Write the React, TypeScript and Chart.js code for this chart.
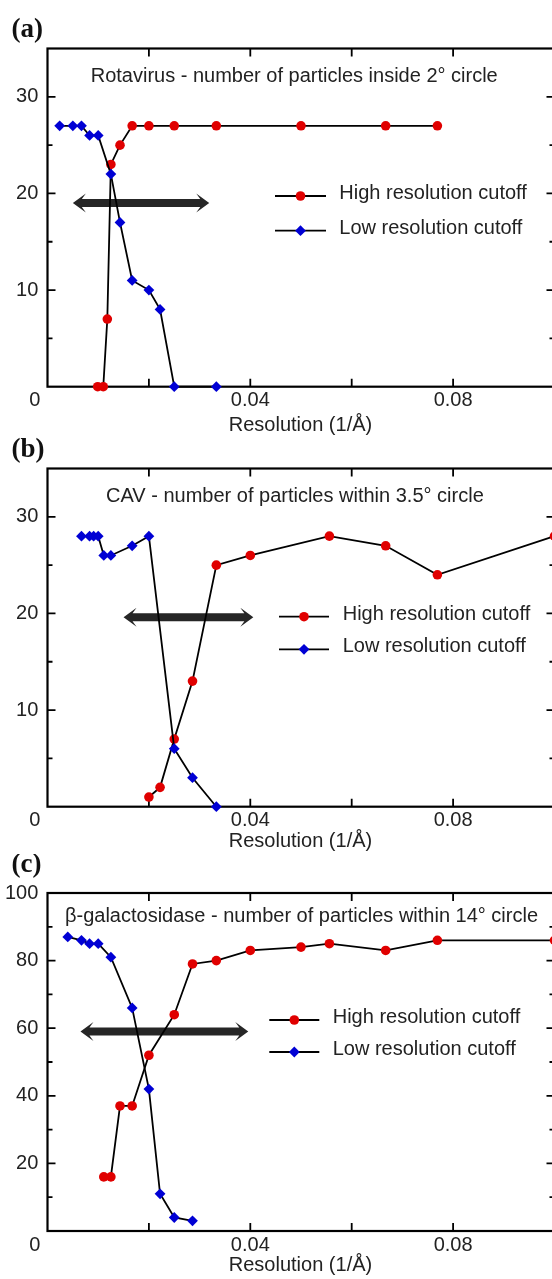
import React, { useEffect, useRef } from 'react';
import { Chart, registerables } from 'chart.js';

Chart.register(...registerables);

// ---------- data ----------
// Panel (a) Rotavirus
const aHighX = [0.0099, 0.011, 0.0118, 0.0125, 0.0143, 0.0167, 0.02, 0.025, 0.0333, 0.05, 0.0667, 0.0769];
const aHighY = [0, 0, 7, 23, 25, 27, 27, 27, 27, 27, 27, 27];
const aLowX = [0.0024, 0.005, 0.0067, 0.0083, 0.01, 0.0125, 0.0143, 0.0167, 0.02, 0.0222, 0.025, 0.0333];
const aLowY = [27, 27, 27, 26, 26, 22, 17, 11, 10, 8, 0, 0];
const aArrow = [0.005, 0.0319, 19];

// Panel (b) CAV
const bHighX = [0.02, 0.0222, 0.025, 0.0286, 0.0333, 0.04, 0.0556, 0.0667, 0.0769, 0.1];
const bHighY = [1, 2, 7, 13, 25, 26, 28, 27, 24, 28];
const bLowX = [0.0067, 0.0083, 0.0091, 0.01, 0.0111, 0.0125, 0.0167, 0.02, 0.025, 0.0286, 0.0333];
const bLowY = [28, 28, 28, 28, 26, 26, 27, 28, 6, 3, 0];
const bArrow = [0.015, 0.0406, 19.6];

// Panel (c) beta-galactosidase
const cHighX = [0.0111, 0.0125, 0.0143, 0.0167, 0.02, 0.025, 0.0286, 0.0333, 0.04, 0.05, 0.0556, 0.0667, 0.0769, 0.1];
const cHighY = [16, 16, 37, 37, 52, 64, 79, 80, 83, 84, 85, 83, 86, 86];
const cLowX = [0.004, 0.0067, 0.0083, 0.01, 0.0125, 0.0167, 0.02, 0.0222, 0.025, 0.0286];
const cLowY = [87, 86, 85, 85, 81, 66, 42, 11, 4, 3];
const cArrow = [0.0065, 0.0396, 59];

// ticks
const xTickValues = [0.02, 0.04, 0.06, 0.08];
const xLabelValues = [0.04, 0.08];
const xTickLabels = ['0.04', '0.08'];
const abYMajor = [10, 20, 30];
const abYMinor = [5, 15, 25];
const abYLabels = ['10', '20', '30'];
const cYMajor = [20, 40, 60, 80];
const cYMinor = [10, 30, 50, 70, 90];
const cYLabelValues = [20, 40, 60, 80, 100];
const cYLabels = ['20', '40', '60', '80', '100'];
const originLabel = '0';

// texts
const panelLetters = ['(a)', '(b)', '(c)'];
const panelTitles = [
  'Rotavirus - number of particles inside 2° circle',
  'CAV - number of particles within 3.5° circle',
  'β-galactosidase - number of particles within 14° circle',
];
const legendLabels = ['High resolution cutoff', 'Low resolution cutoff'];
const xAxisTitle = 'Resolution (1/Å)';

// ---------- styles ----------
const RED = '#e00000';
const BLUE = '#0000d4';
const TEXT = '#222';
const FONT = '20px "Liberation Sans", Arial, Helvetica, sans-serif';
const LETTER_FONT = 'bold 27px "Liberation Serif", "Times New Roman", serif';
const CANVAS_W = 560;
const LINE_W = 1.8;
const CIRCLE_R = 4.8;
const DIAMOND_R = 5.4;

type Panel = {
  top: number;
  height: number;
  pad: { left: number; right: number; top: number; bottom: number };
  yMax: number;
  highX: number[]; highY: number[]; lowX: number[]; lowY: number[];
  arrow: number[];
  yMajor: number[]; yMinor: number[]; yLabelValues: number[]; yLabels: string[];
  letter: string; letterBase: number;
  title: string; titleX: number; titleY: number;
  legY: number[]; legX: number[]; legMarker: number; legText: number;
  tickLabelY: number; axisTitleY: number;
};

const panels: Panel[] = [
  {
    top: 0, height: 436,
    pad: { left: 47.5, right: CANVAS_W - 554.5, top: 48.5, bottom: 436 - 386.7 },
    yMax: 35,
    highX: aHighX, highY: aHighY, lowX: aLowX, lowY: aLowY, arrow: aArrow,
    yMajor: abYMajor, yMinor: abYMinor, yLabelValues: abYMajor, yLabels: abYLabels,
    letter: panelLetters[0], letterBase: 36.5,
    title: panelTitles[0], titleX: 90.7, titleY: 76,
    legY: [196, 230.7], legX: [275, 326], legMarker: 300.5, legText: 339.3,
    tickLabelY: 400, axisTitleY: 425,
  },
  {
    top: 436, height: 418,
    pad: { left: 47.5, right: CANVAS_W - 554.5, top: 32.5, bottom: 418 - 370.7 },
    yMax: 35,
    highX: bHighX, highY: bHighY, lowX: bLowX, lowY: bLowY, arrow: bArrow,
    yMajor: abYMajor, yMinor: abYMinor, yLabelValues: abYMajor, yLabels: abYLabels,
    letter: panelLetters[1], letterBase: 21.3,
    title: panelTitles[1], titleX: 106, titleY: 60.7,
    legY: [180.7, 213.3], legX: [279, 329], legMarker: 304, legText: 342.7,
    tickLabelY: 384, axisTitleY: 405,
  },
  {
    top: 854, height: 425,
    pad: { left: 47.5, right: CANVAS_W - 554.5, top: 39, bottom: 48 },
    yMax: 100,
    highX: cHighX, highY: cHighY, lowX: cLowX, lowY: cLowY, arrow: cArrow,
    yMajor: cYMajor, yMinor: cYMinor, yLabelValues: cYLabelValues, yLabels: cYLabels,
    letter: panelLetters[2], letterBase: 18.3,
    title: panelTitles[2], titleX: 65, titleY: 62.7,
    legY: [166, 198], legX: [269.3, 319.3], legMarker: 294.3, legText: 332.7,
    tickLabelY: 391, axisTitleY: 411,
  },
];

function drawDiamond(ctx: CanvasRenderingContext2D, x: number, y: number, r: number) {
  ctx.beginPath();
  ctx.moveTo(x - r, y);
  ctx.lineTo(x, y - r);
  ctx.lineTo(x + r, y);
  ctx.lineTo(x, y + r);
  ctx.closePath();
  ctx.fill();
}

function drawArrow(ctx: CanvasRenderingContext2D, x0: number, x1: number, y: number) {
  const hl = 13, hw = 9.5, notch = 9, sw = 4;
  ctx.beginPath();
  ctx.moveTo(x0, y);
  ctx.lineTo(x0 + hl, y - hw);
  ctx.lineTo(x0 + notch, y - sw);
  ctx.lineTo(x1 - notch, y - sw);
  ctx.lineTo(x1 - hl, y - hw);
  ctx.lineTo(x1, y);
  ctx.lineTo(x1 - hl, y + hw);
  ctx.lineTo(x1 - notch, y + sw);
  ctx.lineTo(x0 + notch, y + sw);
  ctx.lineTo(x0 + hl, y + hw);
  ctx.closePath();
  ctx.fill();
}

function makeOverlay(p: Panel, idx: number) {
  return {
    id: 'overlay' + idx,
    beforeDatasetsDraw(chart: any) {
      const { ctx, chartArea: ca, scales } = chart;
      const xs = scales.x, ys = scales.y;
      ctx.save();
      // frame
      ctx.strokeStyle = '#000';
      ctx.lineWidth = 2.2;
      ctx.strokeRect(ca.left, ca.top, ca.right - ca.left, ca.bottom - ca.top);
      // ticks
      ctx.lineWidth = 1.8;
      ctx.beginPath();
      for (const v of xTickValues) {
        const px = xs.getPixelForValue(v);
        ctx.moveTo(px, ca.bottom); ctx.lineTo(px, ca.bottom - 8);
        ctx.moveTo(px, ca.top); ctx.lineTo(px, ca.top + 8);
      }
      for (const v of p.yMajor) {
        const py = ys.getPixelForValue(v);
        ctx.moveTo(ca.left, py); ctx.lineTo(ca.left + 8, py);
        ctx.moveTo(ca.right, py); ctx.lineTo(ca.right - 8, py);
      }
      for (const v of p.yMinor) {
        const py = ys.getPixelForValue(v);
        ctx.moveTo(ca.left, py); ctx.lineTo(ca.left + 5, py);
        ctx.moveTo(ca.right, py); ctx.lineTo(ca.right - 5, py);
      }
      ctx.stroke();
      // arrow
      ctx.fillStyle = '#262626';
      drawArrow(ctx, xs.getPixelForValue(p.arrow[0]), xs.getPixelForValue(p.arrow[1]), ys.getPixelForValue(p.arrow[2]));
      ctx.restore();
    },
    afterDatasetsDraw(chart: any) {
      const { ctx, chartArea: ca, scales } = chart;
      const xs = scales.x, ys = scales.y;
      ctx.save();
      ctx.fillStyle = TEXT;
      ctx.font = FONT;
      // y tick labels
      ctx.textAlign = 'right';
      ctx.textBaseline = 'middle';
      p.yLabelValues.forEach((v, i) => {
        ctx.fillText(p.yLabels[i], ca.left - 9.2, ys.getPixelForValue(v));
      });
      // origin label
      ctx.textAlign = 'center';
      ctx.fillText(originLabel, 34.7, p.tickLabelY);
      // x tick labels
      xLabelValues.forEach((v, i) => {
        ctx.fillText(xTickLabels[i], xs.getPixelForValue(v), p.tickLabelY);
      });
      // axis title
      ctx.fillText(xAxisTitle, 300.5, p.axisTitleY);
      // title
      ctx.textAlign = 'left';
      ctx.fillText(p.title, p.titleX, p.titleY);
      // legend
      legendLabels.forEach((lab, i) => {
        const y = p.legY[i];
        ctx.strokeStyle = '#000';
        ctx.lineWidth = LINE_W;
        ctx.beginPath();
        ctx.moveTo(p.legX[0], y);
        ctx.lineTo(p.legX[1], y);
        ctx.stroke();
        if (i === 0) {
          ctx.fillStyle = RED;
          ctx.beginPath();
          ctx.arc(p.legMarker, y, CIRCLE_R, 0, Math.PI * 2);
          ctx.fill();
        } else {
          ctx.fillStyle = BLUE;
          drawDiamond(ctx, p.legMarker, y, DIAMOND_R);
        }
        ctx.fillStyle = TEXT;
        ctx.textBaseline = 'middle';
        ctx.fillText(lab, p.legText, y - 2.5);
      });
      // panel letter
      ctx.font = LETTER_FONT;
      ctx.fillStyle = '#111';
      ctx.textBaseline = 'alphabetic';
      ctx.textAlign = 'left';
      ctx.fillText(p.letter, 11.5, p.letterBase);
      ctx.restore();
    },
  };
}

function buildChart(canvas: HTMLCanvasElement, p: Panel, idx: number) {
  const toPts = (xs: number[], ys: number[]) => xs.map((x, i) => ({ x, y: ys[i] }));
  return new Chart(canvas, {
    type: 'line',
    data: {
      datasets: [
        {
          label: legendLabels[1],
          data: toPts(p.lowX, p.lowY),
          borderColor: '#000',
          borderWidth: LINE_W,
          pointStyle: 'rectRot',
          pointRadius: DIAMOND_R,
          pointBackgroundColor: BLUE,
          pointBorderColor: BLUE,
          pointBorderWidth: 0,
          tension: 0,
          clip: false as any,
        },
        {
          label: legendLabels[0],
          data: toPts(p.highX, p.highY),
          borderColor: '#000',
          borderWidth: LINE_W,
          pointStyle: 'circle',
          pointRadius: CIRCLE_R,
          pointBackgroundColor: RED,
          pointBorderColor: RED,
          pointBorderWidth: 0,
          tension: 0,
          clip: false as any,
        },
      ],
    },
    options: {
      responsive: false,
      animation: false,
      events: [],
      layout: { padding: p.pad },
      scales: {
        x: { type: 'linear', min: 0, max: 0.1, display: false },
        y: { type: 'linear', min: 0, max: p.yMax, display: false },
      },
      plugins: {
        legend: { display: false },
        tooltip: { enabled: false },
        title: { display: false },
      },
    },
    plugins: [makeOverlay(p, idx)],
  } as any);
}

export default function App() {
  const refs = [useRef<HTMLCanvasElement>(null), useRef<HTMLCanvasElement>(null), useRef<HTMLCanvasElement>(null)];
  useEffect(() => {
    const charts = panels.map((p, i) => buildChart(refs[i].current as HTMLCanvasElement, p, i));
    return () => charts.forEach((c) => c.destroy());
  }, []);
  return (
    <div
      style={{
        position: 'absolute', left: 0, top: 0, width: 552, height: 1279,
        overflow: 'hidden', background: '#fff',
      }}
    >
      {panels.map((p, i) => (
        <canvas
          key={i}
          ref={refs[i]}
          width={CANVAS_W}
          height={p.height}
          style={{ position: 'absolute', left: 0, top: p.top, width: CANVAS_W, height: p.height }}
        />
      ))}
    </div>
  );
}
